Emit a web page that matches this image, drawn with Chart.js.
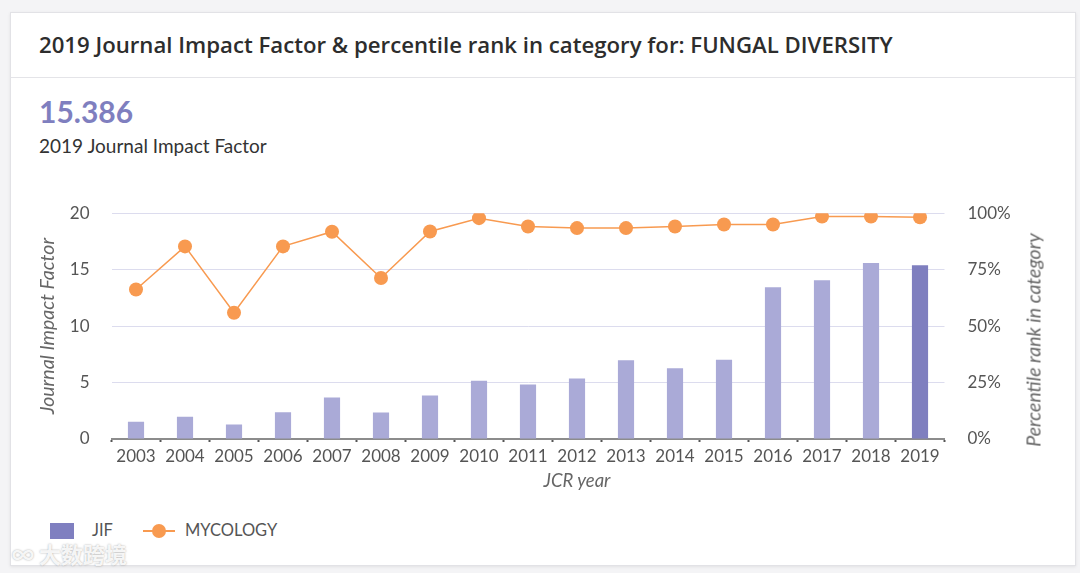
<!DOCTYPE html>
<html>
<head>
<meta charset="utf-8">
<script src="https://cdn.jsdelivr.net/npm/chart.js@4"></script>
<style>
  html, body { margin: 0; padding: 0; background: #f4f4f6; width: 1080px; height: 573px; overflow: hidden; font-family: "Lato", "Noto Sans", sans-serif; }
  .card { position: absolute; left: 10px; top: 12px; width: 1064px; height: 552px; background: #fff; border: 1px solid #e2e2e6; box-shadow: 0 1px 3px rgba(0,0,0,0.08); }
  .title { position: absolute; left: 39px; top: 29px; font-family: "Open Sans", sans-serif; font-size: 22.2px; font-weight: 600; color: #2d2d2d; white-space: nowrap; }
  .sep { position: absolute; left: 11px; width: 1064px; top: 77px; height: 1px; background: #e4e4e8; }
  .big { position: absolute; left: 39px; top: 93px; font-size: 30px; font-weight: 700; color: #7f7fbf; }
  .sub { position: absolute; left: 39px; top: 134px; font-size: 19px; color: #333; }
  #wrap { position: absolute; left: 20px; top: 180px; width: 1040px; height: 320px; }
  .legend { position: absolute; top: 520px; left: 0; font-size: 16.5px; color: #555; }
  .lg-box { position: absolute; left: 50px; top: 3px; width: 24px; height: 16px; background: #7f7fc0; }
  .lg-t1 { position: absolute; left: 92px; top: 0; }
  .lg-line { position: absolute; left: 143px; top: 10px; width: 32px; height: 2px; background: #f89a50; }
  .lg-dot { position: absolute; left: 152px; top: 4px; width: 14px; height: 14px; border-radius: 50%; background: #f89a50; }
  .lg-t2 { position: absolute; left: 185px; top: 0; }
  .xt { position: absolute; top: 469px; left: 477px; width: 200px; text-align: center; font-size: 18.5px; font-style: italic; color: #666; }
  .rt { position: absolute; left: 1033px; top: 340px; width: 0; height: 0; }
  .rt span { position: absolute; left: 0; top: 0; transform: translate(-50%, -50%) rotate(-90deg); white-space: nowrap; font-size: 19.5px; font-style: italic; color: #666; }
  .wm { position: absolute; left: 12px; top: 537px; font-size: 22px; font-weight: 700; color: rgba(255,255,255,0.9); text-shadow: 0 0 2px rgba(0,0,0,0.35); font-family: "Noto Sans CJK SC", sans-serif; }
</style>
</head>
<body>
<div class="card"></div>
<div class="title">2019 Journal Impact Factor &amp; percentile rank in category for: FUNGAL DIVERSITY</div>
<div class="sep"></div>
<div class="big">15.386</div>
<div class="sub">2019 Journal Impact Factor</div>
<div id="wrap"><canvas id="c"></canvas></div>
<div class="xt">JCR year</div>
<div class="rt"><span>Percentile rank in category</span></div>
<div class="legend">
  <div class="lg-box"></div><div class="lg-t1">JIF</div>
  <div class="lg-line"></div><div class="lg-dot"></div><div class="lg-t2">MYCOLOGY</div>
</div>
<div class="wm">∞ 大数跨境</div>
<script>
const years = ['2003','2004','2005','2006','2007','2008','2009','2010','2011','2012','2013','2014','2015','2016','2017','2018','2019'];
const jif = [1.53, 1.97, 1.29, 2.38, 3.68, 2.35, 3.85, 5.15, 4.82, 5.35, 6.97, 6.26, 7.03, 13.44, 14.06, 15.59, 15.386];
const percentile = [66.2, 85.3, 55.9, 85.3, 91.8, 71.3, 91.9, 97.8, 94.1, 93.4, 93.4, 94.1, 95.0, 95.0, 98.5, 98.5, 98.2];
const leftTicks = [0, 5, 10, 15, 20];
const rightTicks = ['0%', '25%', '50%', '75%', '100%'];

const barColors = years.map((y, i) => i === years.length - 1 ? '#7f7fbf' : '#aaaad7');
const tickFont = { family: 'Lato, "Noto Sans", sans-serif', size: 17 };
const titleFont = { family: 'Lato, "Noto Sans", sans-serif', size: 19.5, style: 'italic' };

new Chart(document.getElementById('c'), {
  data: {
    labels: years,
    datasets: [
      { type: 'line', label: 'MYCOLOGY', data: percentile, yAxisID: 'y1', borderColor: '#f89a50', backgroundColor: '#f89a50', borderWidth: 1.5, pointRadius: 7, pointHoverRadius: 7, pointBorderWidth: 0, tension: 0, order: 0 },
      { type: 'bar', label: 'JIF', data: jif, yAxisID: 'y', backgroundColor: barColors, barPercentage: 0.33, categoryPercentage: 1, order: 1 }
    ]
  },
  options: {
    responsive: true,
    maintainAspectRatio: false,
    animation: false,
    layout: { padding: { top: 13, left: 0, right: 0, bottom: 0 } },
    plugins: { legend: { display: false }, tooltip: { enabled: false } },
    scales: {
      x: {
        grid: { display: true, drawOnChartArea: false, drawTicks: true, tickLength: 3, tickWidth: 2, tickColor: '#555' },
        border: { display: true, color: '#8c8c8c', width: 2 },
        ticks: { color: '#555', font: tickFont, padding: 4, maxRotation: 0, autoSkip: false },
        title: { display: false },
        afterFit: s => { s.height = 61; }
      },
      y: {
        position: 'left', min: 0, max: 20,
        afterBuildTicks: s => { s.ticks = leftTicks.map(v => ({ value: v })); },
        grid: { color: '#dcdcee', lineWidth: 1, drawTicks: false },
        border: { display: false },
        ticks: { color: '#555', font: tickFont, padding: 22 },
        title: { display: true, text: 'Journal Impact Factor', color: '#666', font: titleFont, padding: { top: 16, bottom: 0 } },
        afterFit: s => { s.width = 91.5; }
      },
      y1: {
        position: 'right', min: 0, max: 100,
        afterBuildTicks: s => { s.ticks = rightTicks.map((t, i) => ({ value: i * 25 })); },
        grid: { display: false, drawTicks: false },
        border: { display: false },
        ticks: { color: '#555', font: tickFont, padding: 23, callback: (v, i) => rightTicks[i] },
        title: { display: false },
        afterFit: s => { s.width = 115.5; }
      }
    }
  }
});
</script>
</body>
</html>
